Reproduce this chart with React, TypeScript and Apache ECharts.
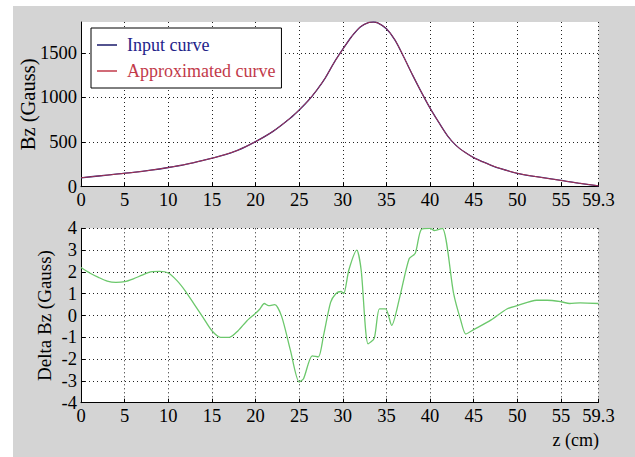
import React, { useEffect, useRef } from "react";
import * as echarts from "echarts";

// ---- Data ----
const zTop = [0, 2, 4, 6, 8, 10, 12, 14, 16, 18, 20, 22, 24, 25, 26, 27, 28, 29, 30, 31, 32, 33, 33.5, 34, 35, 36, 37, 38, 39, 40, 41, 42, 43, 44, 45, 46, 47, 48, 50, 52, 55, 57, 59.3];
const bzInput = [100, 120, 140, 160, 185, 215, 250, 295, 345, 410, 505, 620, 770, 860, 960, 1080, 1220, 1390, 1540, 1680, 1790, 1840, 1845, 1835, 1770, 1640, 1450, 1250, 1060, 880, 720, 570, 460, 385, 325, 280, 240, 205, 150, 115, 70, 40, 10];
const bzApprox = [100, 120, 140, 160, 185, 215, 250, 295, 345, 410, 505, 620, 770, 860, 960, 1080, 1220, 1390, 1540, 1680, 1790, 1840, 1845, 1835, 1770, 1640, 1450, 1250, 1060, 880, 720, 570, 460, 385, 325, 280, 240, 205, 150, 115, 70, 40, 10];

const zDelta = [0, 1, 2, 3, 4, 5, 6, 7, 8, 9, 10, 11, 12, 13, 14, 15, 16, 17, 18, 19, 20, 20.5, 21, 21.5, 22.2, 23, 24, 25, 25.5, 26.5, 27.2, 27.8, 28.6, 29.2, 29.8, 30.1, 30.7, 31.6, 32.1, 32.9, 33.6, 34.2, 34.9, 35.6, 36.5, 37.6, 38.3, 39, 40, 40.5, 41.4, 42.7, 43.5, 44.1, 45, 47, 48.8, 50, 52.2, 53.4, 55, 56, 57.2, 59.3];
const deltaBz = [2.2, 1.95, 1.75, 1.58, 1.52, 1.55, 1.68, 1.85, 2.0, 2.02, 1.95, 1.6, 1.1, 0.5, -0.1, -0.7, -1.0, -1.0, -0.7, -0.25, 0.1, 0.3, 0.55, 0.45, 0.5, -0.05, -1.6, -3.05, -2.9, -1.85, -1.9, -0.9, 0.6, 1.0, 1.1, 1.0, 2.1, 3.0, 2.1, -1.3, -1.05, 0.3, 0.3, -0.45, 0.8, 2.6, 2.85, 3.95, 4.0, 3.9, 4.0, 1.0, -0.2, -0.85, -0.65, -0.2, 0.3, 0.45, 0.7, 0.7, 0.63, 0.55, 0.58, 0.55];

const xTicks = [0, 5, 10, 15, 20, 25, 30, 35, 40, 45, 50, 55, 59.3];
const bzTicks = [0, 500, 1000, 1500];

const FONT = "Liberation Serif";
const FS = 18;

function pairs(xs: number[], ys: number[]) {
  return xs.map((x, i) => [x, ys[i]]);
}

const gridLine = { show: true, lineStyle: { color: "#222", width: 1, type: [1, 3] } };

function xAxisCfg(gridIndex: number) {
  return {
    type: "value",
    gridIndex,
    min: 0,
    max: 59.3,
    axisLine: { show: true, onZero: false, lineStyle: { color: "#000", width: 1 } },
    axisTick: { show: true, inside: true, length: 4, customValues: xTicks, lineStyle: { color: "#000" } },
    axisLabel: {
      customValues: xTicks,
      margin: 4,
      color: "#000",
      fontFamily: FONT,
      fontSize: 18.5,
      formatter: (v: number) => String(v),
    },
    splitLine: gridLine,
  };
}

export default function App() {
  const ref = useRef<HTMLDivElement>(null);
  useEffect(() => {
    document.body.style.margin = "0";
    if (!ref.current) return;
    const chart = echarts.init(ref.current, null, { renderer: "svg" });
    chart.setOption({
      animation: false,
      backgroundColor: "#ffffff",
      textStyle: { fontFamily: FONT },
      graphic: [
        {
          type: "rect",
          z: -100,
          silent: true,
          shape: { x: 13, y: 6, width: 622, height: 451 },
          style: { fill: "#d4d4d4" },
        },
        {
          type: "text",
          x: 599,
          y: 440,
          style: {
            text: "z (cm)",
            fontFamily: FONT,
            fontSize: FS,
            fill: "#000",
            textAlign: "right",
            textVerticalAlign: "middle",
          },
        },
      ],
      grid: [
        { left: 81, top: 22, width: 517.5, height: 164.7, show: true, backgroundColor: "#fff", borderWidth: 0 },
        { left: 81, top: 228.3, width: 517.5, height: 174.4, show: true, backgroundColor: "#fff", borderWidth: 0 },
      ],
      xAxis: [xAxisCfg(0), xAxisCfg(1)],
      yAxis: [
        {
          type: "value",
          gridIndex: 0,
          min: 0,
          max: 1845,
          name: "Bz (Gauss)",
          nameLocation: "middle",
          nameGap: 43,
          nameMoveOverlap: false,
          nameTextStyle: { color: "#000", fontFamily: FONT, fontSize: 20.5 },
          axisLine: { show: true, lineStyle: { color: "#000", width: 1 } },
          axisTick: { show: true, inside: true, length: 4, customValues: bzTicks, lineStyle: { color: "#000" } },
          axisLabel: {
            customValues: bzTicks,
            margin: 4,
            color: "#000",
            fontFamily: FONT,
            fontSize: 18.5,
            formatter: (v: number) => String(v),
          },
          splitLine: gridLine,
        },
        {
          type: "value",
          gridIndex: 1,
          min: -4,
          max: 4,
          interval: 1,
          name: "Delta Bz (Gauss)",
          nameLocation: "middle",
          nameGap: 27,
          nameMoveOverlap: false,
          nameTextStyle: { color: "#000", fontFamily: FONT, fontSize: 19 },
          axisLine: { show: true, lineStyle: { color: "#000", width: 1 } },
          axisTick: { show: true, inside: true, length: 4, lineStyle: { color: "#000" } },
          axisLabel: { margin: 4, color: "#000", fontFamily: FONT, fontSize: 18.5, formatter: (v: number) => String(v) },
          splitLine: gridLine,
        },
      ],
      legend: {
        left: 91,
        top: 28,
        orient: "vertical",
        backgroundColor: "#fff",
        borderColor: "#000",
        borderWidth: 1,
        borderRadius: 0,
        padding: [8, 6, 8, 6],
        icon: "rect",
        itemWidth: 20,
        itemHeight: 1.5,
        itemGap: 8,
        selectedMode: false,
        textStyle: { fontFamily: FONT, fontSize: FS, lineHeight: 18, padding: [0, 0, 0, 5] },
        data: [
          { name: "Input curve", textStyle: { color: "#23238a" }, itemStyle: { color: "#1a1a6a" } },
          { name: "Approximated curve", textStyle: { color: "#c23a4a" }, itemStyle: { color: "#c23a4a" } },
        ],
      },
      series: [
        {
          name: "Input curve",
          type: "line",
          xAxisIndex: 0,
          yAxisIndex: 0,
          data: pairs(zTop, bzInput),
          showSymbol: false,
          symbol: "none",
          smooth: 0.3,
          lineStyle: { color: "#1a1a7a", width: 1.3 },
          itemStyle: { color: "#1a1a7a" },
        },
        {
          name: "Approximated curve",
          type: "line",
          xAxisIndex: 0,
          yAxisIndex: 0,
          data: pairs(zTop, bzApprox),
          showSymbol: false,
          symbol: "none",
          smooth: 0.3,
          lineStyle: { color: "#c23a4a", width: 1, opacity: 0.85 },
          itemStyle: { color: "#c23a4a" },
        },
        {
          name: "Delta Bz",
          type: "line",
          xAxisIndex: 1,
          yAxisIndex: 1,
          data: pairs(zDelta, deltaBz),
          showSymbol: false,
          symbol: "none",
          smooth: 0.25,
          lineStyle: { color: "#6cc86c", width: 1.3 },
          itemStyle: { color: "#6cc86c" },
        },
      ],
    });
    return () => chart.dispose();
  }, []);
  return <div ref={ref} style={{ width: 635, height: 457 }} />;
}
